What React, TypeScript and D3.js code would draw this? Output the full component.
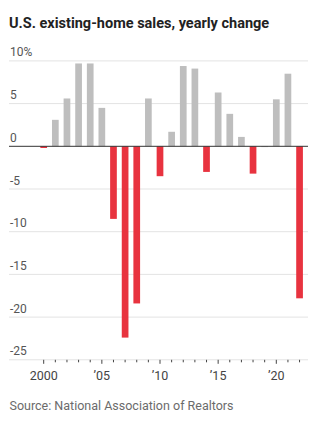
import React from "react";
import * as d3 from "d3";

const years = [2000, 2001, 2002, 2003, 2004, 2005, 2006, 2007, 2008, 2009, 2010, 2011, 2012, 2013, 2014, 2015, 2016, 2017, 2018, 2019, 2020, 2021, 2022];
const changes = [-0.2, 3.1, 5.6, 9.7, 9.7, 4.5, -8.5, -22.4, -18.4, 5.6, -3.5, 1.7, 9.4, 9.1, -3.0, 6.3, 3.8, 1.1, -3.2, 0, 5.5, 8.5, -17.8];
const yTicks = [10, 5, 0, -5, -10, -15, -20, -25];
const yTickLabels = ["10%", "5", "0", "-5", "-10", "-15", "-20", "-25"];
const xMajor = [2000, 2005, 2010, 2015, 2020];
const xMajorLabels = ["2000", "\u201905", "\u201910", "\u201915", "\u201920"];

const W = 322;
const H = 434;

export default function App() {
  const x = d3.scaleLinear().domain([2000, 2020]).range([43.7, 276.3]);
  const y = d3.scaleLinear().domain([0, -25]).range([146.3, 359.8]);
  const barW = 6.7;
  const left = 9;
  const right = 308;
  const minor = d3.range(2000, 2023);
  const font = "Roboto, 'Noto Sans', sans-serif";
  return (
    <svg width={W} height={H} style={{ position: "absolute", left: 0, top: 0, background: "#fff" }}>
      <text x={9} y={27.5} fontFamily={font} fontWeight={700} fontSize={14.5} fill="#222">
        U.S. existing-home sales, yearly change
      </text>
      {yTicks.map((t, i) => (
        <g key={t}>
          {t !== 0 && t !== -25 && (
            <line x1={left} x2={right} y1={y(t)} y2={y(t)} stroke="#e3e3e3" strokeWidth={1} />
          )}
          <text x={10} y={y(t) - 4.5} fontFamily={font} fontSize={12} fill="#555">
            {yTickLabels[i]}
          </text>
        </g>
      ))}
      {years.map((yr, i) => {
        const v = changes[i];
        const y0 = y(Math.max(0, v));
        const y1 = y(Math.min(0, v));
        return (
          <rect
            key={yr}
            x={x(yr) - barW / 2}
            y={y0}
            width={barW}
            height={Math.max(y1 - y0, 0.8)}
            fill={v >= 0 ? "#bebebe" : "#e8333f"}
          />
        );
      })}
      <line x1={left} x2={right} y1={y(0)} y2={y(0)} stroke="#333" strokeWidth={1} />
      <line x1={left} x2={right} y1={y(-25)} y2={y(-25)} stroke="#e3e3e3" strokeWidth={1} />
      {minor.map((yr) => (
        <line
          key={yr}
          x1={x(yr)}
          x2={x(yr)}
          y1={y(-25)}
          y2={y(-25) + (xMajor.includes(yr) ? 4 : 2.5)}
          stroke="#444"
          strokeWidth={1}
        />
      ))}
      {xMajor.map((yr, i) => (
        <text key={yr} x={x(yr)} y={380} textAnchor="middle" fontFamily={font} fontSize={12.5} fill="#444">
          {xMajorLabels[i]}
        </text>
      ))}
      <text x={9.5} y={409.5} fontFamily={font} fontSize={12.5} fill="#6b6b6b">
        Source: National Association of Realtors
      </text>
    </svg>
  );
}
